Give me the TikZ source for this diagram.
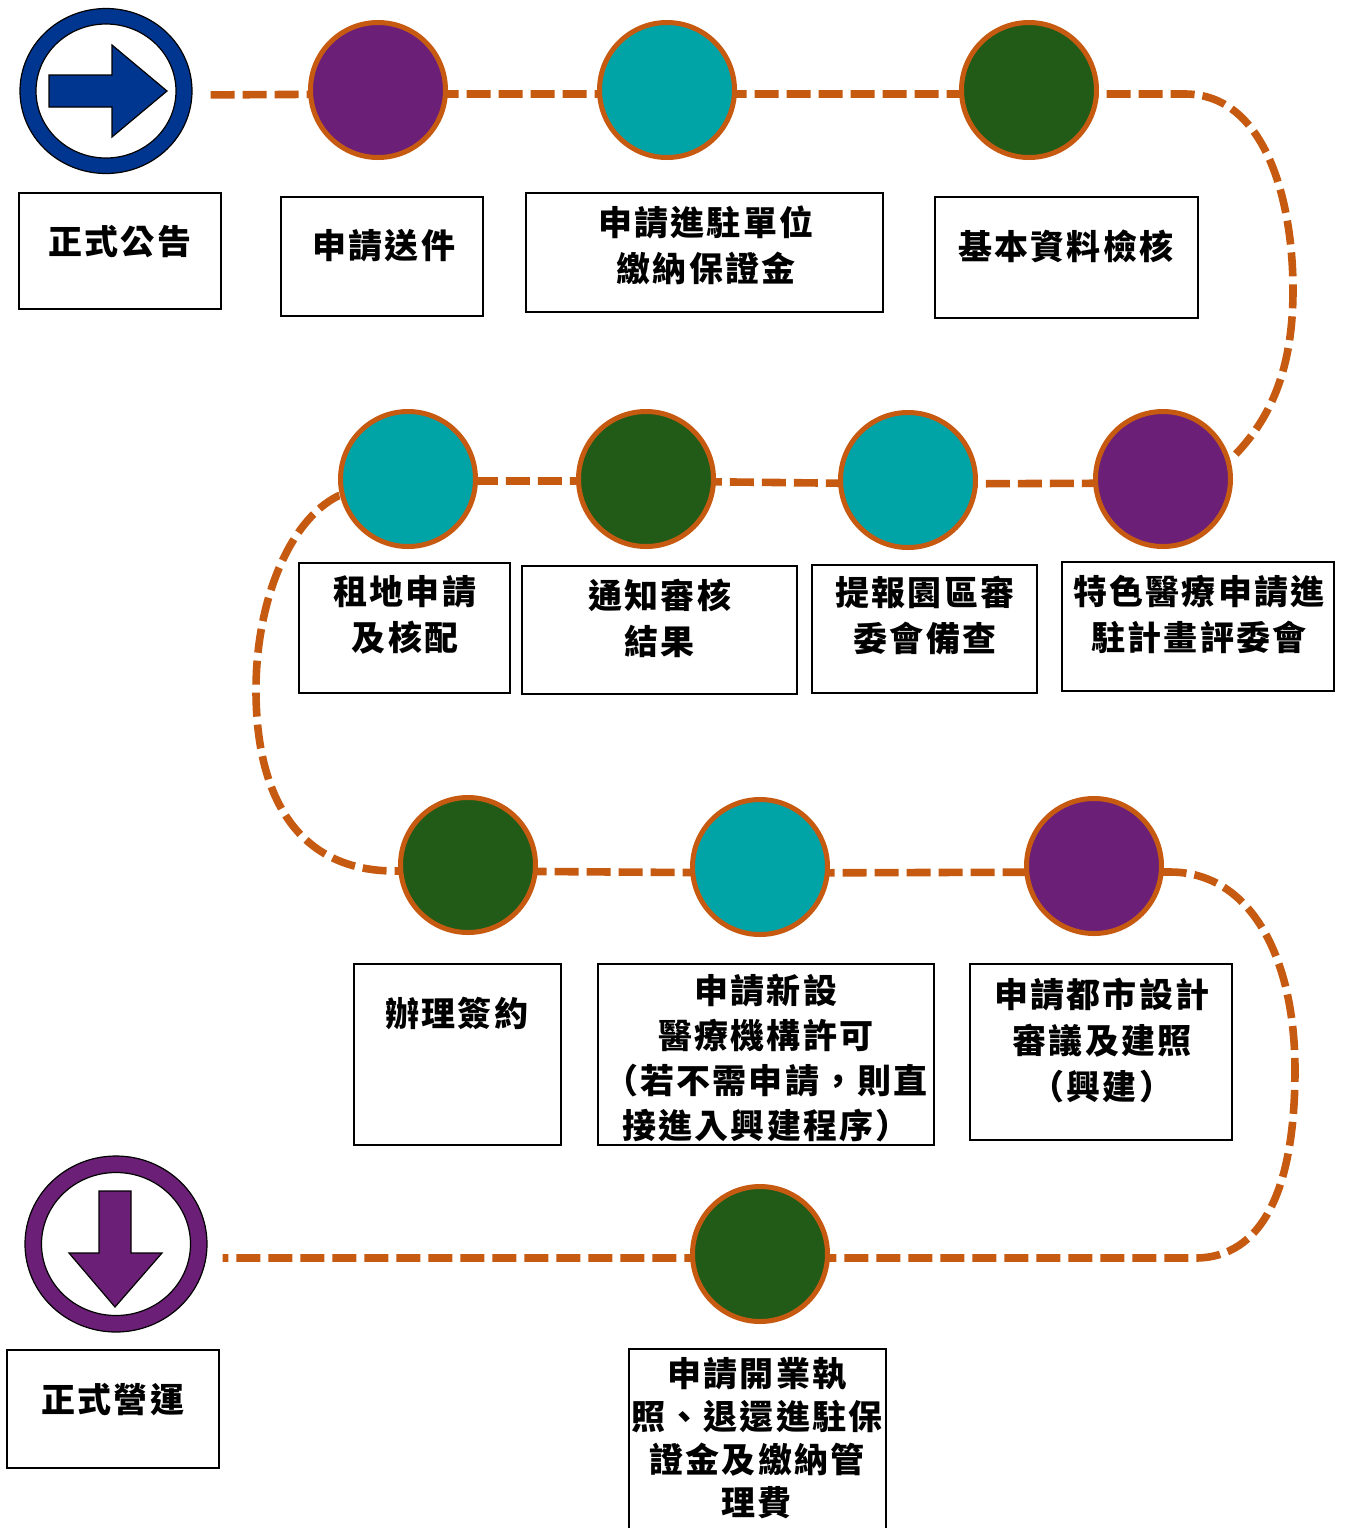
\documentclass[tikz,border=0pt]{standalone}
\usepackage{fontspec}
\newfontfamily\cjk{Noto Sans CJK TC}[LetterSpace=6]
\usepackage{tikz}
\usetikzlibrary{shapes.geometric,backgrounds}
\definecolor{startblue}{HTML}{00368F}
\definecolor{markpurple}{HTML}{6B1F76}
\definecolor{markteal}{HTML}{00A3A6}
\definecolor{markgreen}{HTML}{225A18}
\definecolor{linkorange}{HTML}{C65A11}
\tikzset{
  spot/.style={circle,draw=linkorange,line width=2.5pt,fill=#1,minimum size=67.5pt,inner sep=0pt},
  ring/.style={ellipse,draw,line width=0.6pt,fill=#1,inner sep=0pt},
  link/.style={draw=linkorange,line width=3.8pt,dash pattern=on 12pt off 4pt},
  box/.style={draw,line width=1pt,inner sep=0pt},
  txt/.style={font=\cjk\bfseries\fontsize{17}{23}\selectfont,align=center,inner sep=0pt}
}
\begin{document}
\begin{tikzpicture}[x=0.5pt,y=-0.5pt]
\useasboundingbox (0,0) rectangle (1349,1528);
\clip (0,0) rectangle (1349,1528);
% start and end marks
\node[ring=startblue,minimum width=86pt,minimum height=82.5pt] (s) at (106,91) {};
\node[ring=white,minimum width=70pt,minimum height=67pt] (s-in) at (s) {};
\draw[fill=startblue,line width=0.6pt,shift={(s.center)}] (-57,-16) -- (6,-16) -- (6,-46) -- (61,0) -- (6,46) -- (6,16) -- (-57,16) -- cycle;
\node[ring=markpurple,minimum width=91pt,minimum height=88pt] (e) at (116,1244) {};
\node[ring=white,minimum width=74.5pt,minimum height=71.5pt] (e-in) at (e) {};
\draw[fill=markpurple,line width=0.6pt,shift={(e.center)}] (-17,-53) -- (15,-53) -- (15,9) -- (46,9) -- (-1,63) -- (-47,9) -- (-17,9) -- cycle;
% steps
\node[spot=markpurple] (c1) at (378,90) {};
\node[spot=markteal] (c2) at (667,90) {};
\node[spot=markgreen] (c3) at (1029,90) {};
\node[spot=markpurple] (c4) at (1163,479) {};
\node[spot=markteal] (c5) at (908,480) {};
\node[spot=markgreen] (c6) at (646,479) {};
\node[spot=markteal] (c7) at (408,479) {};
\node[spot=markgreen] (c8) at (468,865) {};
\node[spot=markteal] (c9) at (760,867) {};
\node[spot=markpurple] (c10) at (1094,866) {};
\node[spot=markgreen] (c11) at (760,1254) {};
% the dashed route
\begin{pgfonlayer}{background}
\draw[link,shorten <=9pt,shorten >=7.5pt] ([yshift=-2pt]s.east) -- ([yshift=-2pt]c1.center) -- ([yshift=-2pt]c2.center) -- ([yshift=-2pt]c3.center) -- (1185,94)
  .. controls (1265,94) and (1293,200) .. (1293,290)
  .. controls (1293,370) and (1270,420) .. (1232,458) -- ([yshift=-2pt]c4.center) -- ([yshift=-2pt]c5.center) -- ([yshift=-1pt]c6.center) -- ([yshift=-1pt]c7.center) -- (338,496)
  .. controls (290,520) and (256,600) .. (256,690)
  .. controls (256,800) and (300,871) .. (395,871) -- ([yshift=-3pt]c8.center) -- ([yshift=-3pt]c9.center) -- ([yshift=-3pt]c10.center) -- (1170,872)
  .. controls (1252,872) and (1295,960) .. (1295,1070)
  .. controls (1295,1190) and (1262,1258) .. (1195,1258) -- ([yshift=-2pt]c11.center) -- ([yshift=-2pt]c11 -| e.east);
\end{pgfonlayer}
% boxes
\node[box,minimum width=101pt,minimum height=58pt] (b1) at (120,251) {};
\node[box,minimum width=101pt,minimum height=59.5pt] (b2) at (382,256.5) {};
\node[box,minimum width=178.5pt,minimum height=59.5pt] (b3) at (704.5,252.5) {};
\node[box,minimum width=131.5pt,minimum height=60.5pt] (b4) at (1066.5,257.5) {};
\node[box,minimum width=105.5pt,minimum height=65pt] (b5) at (404.5,628) {};
\node[box,minimum width=137.5pt,minimum height=64pt] (b6) at (659.5,630) {};
\node[box,minimum width=112.5pt,minimum height=64pt] (b7) at (924.5,629) {};
\node[box,minimum width=136pt,minimum height=64.5pt] (b8) at (1198,626.5) {};
\node[box,minimum width=103.5pt,minimum height=90.5pt] (b9) at (457.5,1054.5) {};
\node[box,minimum width=168pt,minimum height=90.5pt] (b10) at (766,1054.5) {};
\node[box,minimum width=131pt,minimum height=88pt] (b11) at (1101,1052) {};
\node[box,minimum width=106pt,minimum height=59pt] (b12) at (113,1409) {};
\node[box,minimum width=128.5pt,minimum height=95pt] (b13) at (757.5,1444) {};
% texts
\node[txt] (t1) at (120,242) {正式公告};
\node[txt] (t2) at (384,246) {申請送件};
\node[txt] (t3) at (706,245) {申請進駐單位\\繳納保證金};
\node[txt] (t4) at (1066,246) {基本資料檢核};
\node[txt] (t5) at (405,615) {租地申請\\及核配};
\node[txt] (t6) at (660,618) {通知審核\\結果};
\node[txt] (t7) at (925,616) {提報園區審\\委會備查};
\node[txt] (t8) at (1199,614) {特色醫療申請進\\駐計畫評委會};
\node[txt] (t9) at (457,1013) {辦理簽約};
\node[txt,font=\cjk\bfseries\fontsize{17}{22.5}\selectfont] (t10) at (766,1058) {申請新設\\醫療機構許可\\（若不需申請，則直\\接進入興建程序）};
\node[txt] (t11) at (1102,1040) {申請都市設計\\審議及建照\\（興建）};
\node[txt] (t12) at (113,1400) {正式營運};
\node[txt,font=\cjk\bfseries\fontsize{17}{21.5}\selectfont] (t13) at (757,1438) {申請開業執\\照、退還進駐保\\證金及繳納管\\理費};
\end{tikzpicture}
\end{document}
